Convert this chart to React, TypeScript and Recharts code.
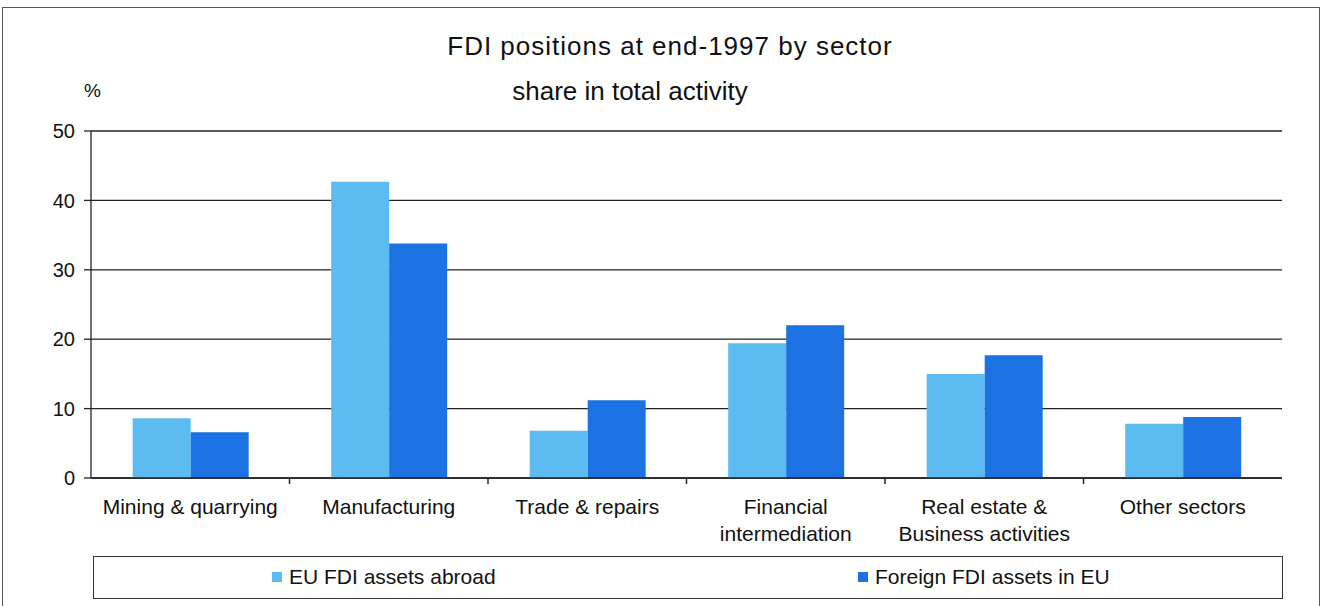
import React from 'react';
import { BarChart, Bar, XAxis, YAxis, CartesianGrid } from 'recharts';

const SECTORS = [
  'Mining & quarrying',
  'Manufacturing',
  'Trade & repairs',
  'Financial\nintermediation',
  'Real estate &\nBusiness activities',
  'Other sectors',
];
const EU_ABROAD = [8.6, 42.7, 6.8, 19.4, 15.0, 7.8];
const FOREIGN_IN_EU = [6.6, 33.8, 11.2, 22.0, 17.7, 8.8];
const Y_TICKS = [0, 10, 20, 30, 40, 50];

const SERIES = [
  { key: 'abroad', name: 'EU FDI assets abroad', color: '#5CBCF2' },
  { key: 'inEU', name: 'Foreign FDI assets in EU', color: '#1C72E2' },
];

const data = SECTORS.map((s, i) => ({ sector: s, abroad: EU_ABROAD[i], inEU: FOREIGN_IN_EU[i] }));

const FONT = '"Liberation Sans", Arial, sans-serif';

function SectorTick({ x, y, payload, index, width, visibleTicksCount }: any) {
  const lines = String(payload.value).split('\n');
  const band = width / visibleTicksCount;
  return (
    <g>
      {index < visibleTicksCount - 1 && (
        <line x1={x + band / 2} x2={x + band / 2} y1={y - 8} y2={y - 2} stroke="#222" strokeWidth={1.5} />
      )}
      <text x={x} y={y + 28} textAnchor="middle" fill="#111" fontSize={21} fontFamily={FONT}>
        {lines.map((l, i) => (
          <tspan key={i} x={x} dy={i === 0 ? 0 : 27}>{l}</tspan>
        ))}
      </text>
    </g>
  );
}

export default function App() {
  return (
    <div style={{ position: 'absolute', left: 0, top: 0, width: 1324, height: 606, background: '#fff', fontFamily: FONT, overflow: 'hidden' }}>
      <div style={{ position: 'absolute', left: 2, top: 7, width: 1318, height: 610, border: '1px solid #555', boxSizing: 'border-box' }} />
      <div style={{ position: 'absolute', left: 0, width: 1340, top: 31, textAlign: 'center', fontSize: 26, letterSpacing: 1, color: '#111' }}>
        FDI positions at end-1997 by sector
      </div>
      <div style={{ position: 'absolute', left: 0, width: 1260, top: 76, textAlign: 'center', fontSize: 26, color: '#111' }}>
        share in total activity
      </div>
      <div style={{ position: 'absolute', left: 84, top: 80, fontSize: 19, color: '#111' }}>%</div>

      <div style={{ position: 'absolute', left: 0, top: 0 }}>
        <BarChart width={1324} height={606} data={data} margin={{ top: 131, right: 42, left: 31, bottom: 68 }}
          barCategoryGap="21%" barGap={0}>
          <CartesianGrid vertical={false} stroke="#222" strokeWidth={1.3} />
          <XAxis dataKey="sector" tick={<SectorTick />} tickLine={false} interval={0} height={60}
            axisLine={{ stroke: '#222', strokeWidth: 1.5 }} />
          <YAxis domain={[0, 50]} ticks={Y_TICKS} width={60} tickSize={7} tickMargin={9}
            tick={{ fill: '#111', fontSize: 20, fontFamily: FONT }}
            axisLine={{ stroke: '#222', strokeWidth: 1.3 }} tickLine={{ stroke: '#222', strokeWidth: 1.3 }} />
          {SERIES.map((s) => (
            <Bar key={s.key} dataKey={s.key} name={s.name} fill={s.color} isAnimationActive={false} />
          ))}
        </BarChart>
      </div>

      <div style={{ position: 'absolute', left: 93, top: 556, width: 1190, height: 43, border: '1px solid #333', boxSizing: 'border-box', background: '#fff' }}>
        {SERIES.map((s, i) => (
          <div key={s.key} style={{ position: 'absolute', left: i === 0 ? 178 : 764, top: 8, display: 'flex', alignItems: 'center', fontSize: 21, color: '#111' }}>
            <span style={{ display: 'inline-block', width: 10, height: 10, background: s.color, marginRight: 7 }} />
            {s.name}
          </div>
        ))}
      </div>
    </div>
  );
}
